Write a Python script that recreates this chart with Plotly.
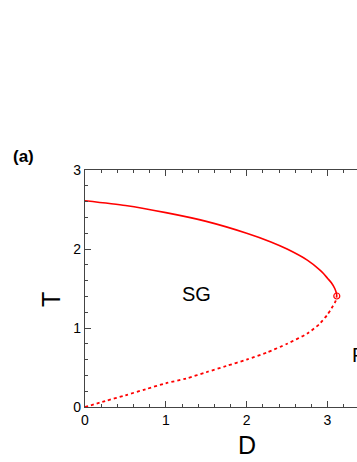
import plotly.graph_objects as go

# upper (solid) branch of the transition line
d_upper = [0, 0.5, 1.0, 1.5, 2.0, 2.3, 2.5, 2.75, 2.9, 2.95, 3.0, 3.05, 3.09, 3.11, 3.115]
t_upper = [2.61, 2.55, 2.46, 2.35, 2.20, 2.09, 2.00, 1.86, 1.74, 1.69, 1.63, 1.57, 1.50, 1.44, 1.405]

# lower (dotted) branch
d_lower = [0, 0.25, 0.5, 0.75, 1.0, 1.25, 1.5, 1.75, 2.0, 2.25, 2.5, 2.75, 2.9, 3.0, 3.05, 3.1, 3.115]
t_lower = [0, 0.075, 0.148, 0.225, 0.30, 0.36, 0.44, 0.52, 0.60, 0.69, 0.80, 0.93, 1.05, 1.17, 1.25, 1.34, 1.405]

# point where the two branches meet
d_point = [3.115]
t_point = [1.405]

font = "Arial, Liberation Sans, sans-serif"

fig = go.Figure()
fig.add_trace(go.Scatter(x=d_upper, y=t_upper, mode="lines",
                         line=dict(color="#ff0000", width=1.6, shape="spline", smoothing=0.6)))
fig.add_trace(go.Scatter(x=d_lower, y=t_lower, mode="lines",
                         line=dict(color="#ff0000", width=1.8, dash="dot",
                                   shape="spline", smoothing=0.6)))
fig.add_trace(go.Scatter(x=d_point, y=t_point, mode="markers",
                         marker=dict(symbol="circle-open", size=6, color="#ff0000",
                                     line=dict(width=1.2, color="#ff0000"))))

axis_style = dict(showline=True, linecolor="#444", linewidth=1.2, showgrid=False,
                  zeroline=False, ticks="inside", ticklen=6, tickcolor="#444",
                  tickwidth=1.2, automargin=False,
                  tickfont=dict(family=font, size=14, color="black"),
                  minor=dict(dtick=0.2, ticks="inside", ticklen=3, tickcolor="#444",
                             tickwidth=1))

fig.update_xaxes(range=[0, 3.365], dtick=1, tick0=0, mirror="ticks", **axis_style)
fig.update_yaxes(range=[0, 3], dtick=1, tick0=0, mirror=False, **axis_style)

# labels outside the plot area go in paper coordinates
fig.add_annotation(xref="paper", yref="paper", x=0.596, y=-0.16, text="D",
                   xanchor="center", yanchor="middle",
                   font=dict(family=font, size=25, color="black"), showarrow=False)
fig.add_annotation(xref="paper", yref="paper", x=-0.125, y=0.451, text="T", textangle=-90,
                   xanchor="center", yanchor="middle",
                   font=dict(family=font, size=25, color="black"), showarrow=False)
fig.add_annotation(xref="paper", yref="paper", x=-0.226, y=1.055, text="<b>(a)</b>",
                   xanchor="center", yanchor="middle",
                   font=dict(family=font, size=17, color="black"), showarrow=False)
# phase labels
fig.add_annotation(x=1.385, y=1.43, text="SG",
                   font=dict(family=font, size=20, color="black"), showarrow=False)
fig.add_annotation(x=3.276, y=0.655, text="PM", xanchor="left",
                   font=dict(family=font, size=20, color="black"), showarrow=False)

fig.update_layout(width=357, height=462, showlegend=False,
                  plot_bgcolor="white", paper_bgcolor="white",
                  margin=dict(l=85, r=0, t=170, b=55))

fig.write_html("out.html", config={"displayModeBar": False},
               post_script="document.body.style.margin='0px';")
